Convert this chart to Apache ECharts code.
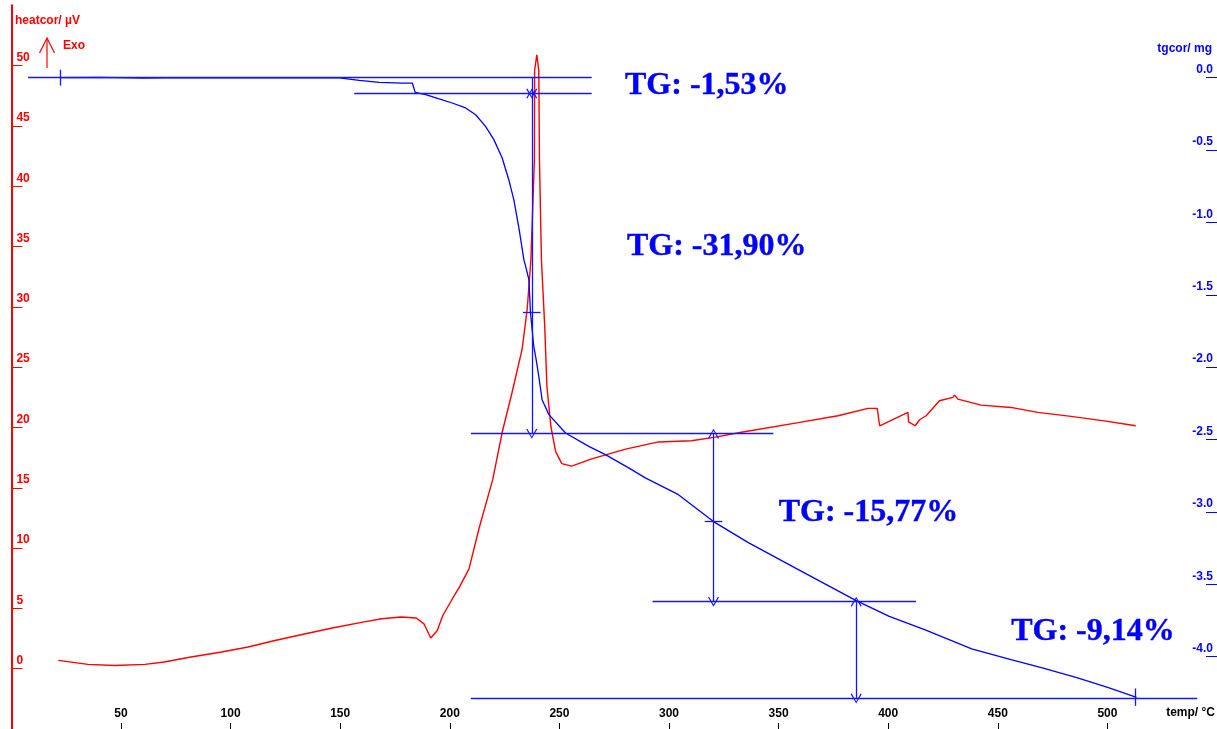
<!DOCTYPE html>
<html><head><meta charset="utf-8">
<script src="https://cdn.jsdelivr.net/npm/echarts@6/dist/echarts.min.js"></script>
<style>html,body{margin:0;padding:0;background:#fff}#c{width:1217px;height:729px}</style>
</head><body><div id="c"></div>
<script>
// DTA curve (heatcor, µV) vs temperature (°C)
const dtaTemp = [21.4, 34.9, 47.1, 60.9, 69.7, 81.9, 95.9, 108.0, 120.2, 134.2, 146.4, 160.3, 169.0, 177.7, 184.7, 188.2, 191.3, 194.3, 196.8, 201.2, 204.5, 208.8, 213.3, 219.6, 223.9, 228.4, 233.0, 235.3, 237.0, 238.6, 238.7, 239.7, 240.6, 240.9, 241.8, 243.3, 244.3, 246.1, 248.3, 251.1, 255.6, 264.7, 280.2, 295.2, 310.2, 321.2, 333.0, 359.0, 377.1, 390.8, 395.0, 396.1, 409.0, 409.3, 412.3, 414.3, 417.3, 423.4, 429.5, 430.3, 431.8, 442.4, 456.0, 468.2, 483.4, 498.5, 512.9];
const dtaHeat = [0.69, 0.36, 0.27, 0.36, 0.55, 0.97, 1.38, 1.80, 2.34, 2.90, 3.37, 3.86, 4.14, 4.28, 4.20, 3.72, 2.54, 3.17, 4.41, 5.80, 6.8, 8.3, 11.6, 15.7, 19.6, 22.9, 26.5, 29.8, 33.9, 42.2, 49.6, 50.9, 49.6, 42.2, 33.9, 28.4, 23.4, 20.1, 18.0, 17.0, 16.8, 17.4, 18.2, 18.8, 18.9, 19.2, 19.6, 20.4, 20.97, 21.58, 21.58, 20.14, 21.25, 20.47, 20.14, 20.64, 20.97, 22.21, 22.49, 22.68, 22.35, 21.85, 21.66, 21.25, 20.92, 20.55, 20.14];

// TG curve (tgcor, mg) vs temperature (°C)
const tgTemp = [22.1, 40, 60, 80, 100, 120, 140, 149.6, 158.7, 167.8, 178.4, 182.9, 184.2, 189.0, 195.1, 201.1, 207.2, 211.8, 216.3, 220.1, 223.9, 226.9, 229.2, 231.5, 233.8, 234.6, 236.1, 236.8, 238.3, 239.4, 240.6, 242.1, 245.2, 252.8, 263.4, 271.0, 281.6, 289.2, 304.3, 320.3, 336.2, 359.0, 385.4, 400.5, 416.6, 438.1, 456.0, 470.3, 486.4, 500.8, 513.3];
const tgMass = [0, 0.002, -0.003, 0, -0.002, 0, -0.001, -0.002, -0.019, -0.032, -0.037, -0.037, -0.102, -0.117, -0.147, -0.175, -0.209, -0.256, -0.336, -0.428, -0.555, -0.705, -0.843, -1.036, -1.257, -1.304, -1.396, -1.623, -1.856, -1.948, -2.064, -2.225, -2.328, -2.455, -2.547, -2.604, -2.696, -2.765, -2.881, -3.067, -3.212, -3.399, -3.613, -3.722, -3.813, -3.947, -4.021, -4.078, -4.147, -4.216, -4.281];

// axis ticks
const xTickValues = [50, 100, 150, 200, 250, 300, 350, 400, 450, 500];
const heatTickValues = [0, 5, 10, 15, 20, 25, 30, 35, 40, 45, 50];
const massTickValues = [0, -0.5, -1, -1.5, -2, -2.5, -3, -3.5, -4];

// TG step evaluation
const stepLevels = [0, -0.11, -2.46, -3.62, -4.29];           // mg levels
const levelLineRanges = [[7.6, 264.7], [156.4, 264.7], [209.6, 347.6], [292.5, 412.7], [209.6, 541]]; // °C
const stepArrowTemps = [237.4, 237.4, 320.3, 385.4];            // °C
const stepLabels = ['TG: -1,53%', 'TG: -31,90%', 'TG: -15,77%', 'TG: -9,14%'];
const stepLabelAnchors = [[279.7, -0.055], [280.6, -1.168], [349.8, -3.005], [455.9, -3.827]];
const crossMarksH = [[237.4, -1.623], [320.3, -3.067]];        // inflection crosses
const crossMarksV = [[22.1, 0], [512.8, -4.29]];               // start / end marks

const RED = '#ff0000', BLUE = '#0000ff', ALINE = '#1414ff';
const chevron = 'path://M0,0 L-5,10 L-4,10.6 L0,2.2 L4,10.6 L5,10 Z';
const lineSty = {color: ALINE, width: 1.3, type: 'solid', opacity: 1};

const markData = [];
levelLineRanges.forEach((r, i) => {
  markData.push([{coord: [r[0], stepLevels[i]], symbol: 'none', lineStyle: lineSty}, {coord: [r[1], stepLevels[i]], symbol: 'none'}]);
});
stepArrowTemps.forEach((t, i) => {
  const startSym = i === 0 ? 'none' : chevron;
  markData.push([{coord: [t, stepLevels[i + 1]], symbol: chevron, lineStyle: lineSty}, {coord: [t, stepLevels[i]], symbol: startSym}]);
});
crossMarksH.forEach(p => {
  markData.push([{coord: [p[0] - 4, p[1]], symbol: 'none', lineStyle: lineSty}, {coord: [p[0] + 4, p[1]], symbol: 'none'}]);
});
crossMarksV.forEach((p, i) => {
  markData.push([{coord: [p[0], p[1] + (i === 0 ? 0.055 : 0.07)], symbol: 'none', lineStyle: lineSty}, {coord: [p[0], p[1] - (i === 0 ? 0.055 : 0.05)], symbol: 'none'}]);
});

const chart = echarts.init(document.getElementById('c'), null, {renderer: 'canvas'});
const baseFont = {fontFamily: '"Liberation Sans", Arial, sans-serif', fontWeight: 'bold', fontSize: 12};

chart.setOption({
  animation: false,
  backgroundColor: '#ffffff',
  grid: {left: 11.4, width: 1208.4, top: 5.3, height: 724.4, containLabel: false},
  xAxis: {
    type: 'value', min: 0, max: 550, interval: 50, position: 'bottom',
    axisLine: {show: false, onZero: false},
    axisTick: {show: true, inside: true, length: 6, customValues: xTickValues, lineStyle: {color: '#000', width: 1}},
    axisLabel: Object.assign({show: true, inside: true, margin: 15, verticalAlign: 'middle', color: '#000', customValues: xTickValues}, baseFont),
    splitLine: {show: false}
  },
  yAxis: [
    {
      type: 'value', min: -5, max: 55, interval: 5, position: 'left',
      axisLine: {show: true, onZero: false, lineStyle: {color: RED, width: 2}},
      axisTick: {show: true, inside: true, length: 11, customValues: heatTickValues, lineStyle: {color: RED, width: 1}},
      axisLabel: Object.assign({show: true, inside: true, margin: 5, verticalAlign: 'bottom', padding: [0, 0, 2, 0], color: RED, customValues: heatTickValues}, baseFont),
      splitLine: {show: false}
    },
    {
      type: 'value', min: -4.5, max: 0.5, interval: 0.5, position: 'right',
      axisLine: {show: false, onZero: false},
      axisTick: {show: true, inside: true, length: 11, customValues: massTickValues, lineStyle: {color: BLUE, width: 1}},
      axisLabel: Object.assign({show: true, inside: true, margin: 4, verticalAlign: 'bottom', padding: [0, 0, 2, 0], color: BLUE, customValues: massTickValues,
        formatter: v => (Math.abs(v) < 1e-9 ? '0.0' : v.toFixed(1))}, baseFont),
      splitLine: {show: false}
    }
  ],
  series: [
    {
      name: 'heatcor', type: 'line', yAxisIndex: 0, showSymbol: false, symbol: 'none',
      data: dtaTemp.map((t, i) => [t, dtaHeat[i]]),
      lineStyle: {color: RED, width: 1.4}, itemStyle: {color: RED}, z: 3
    },
    {
      name: 'tgcor', type: 'line', yAxisIndex: 1, showSymbol: false, symbol: 'none',
      data: tgTemp.map((t, i) => [t, tgMass[i]]),
      lineStyle: {color: BLUE, width: 1.3}, itemStyle: {color: BLUE}, z: 4,
      markLine: {
        silent: true, animation: false, symbol: ['none', 'none'], symbolSize: [11, 10],
        label: {show: false},
        lineStyle: lineSty,
        itemStyle: {color: ALINE},
        emphasis: {disabled: true},
        data: markData
      }
    },
    {
      name: 'steps', type: 'scatter', yAxisIndex: 1, symbol: 'circle', symbolSize: 1,
      itemStyle: {color: BLUE, opacity: 0}, silent: true, z: 5,
      data: stepLabelAnchors.map(p => p),
      label: {
        show: true, position: 'right', distance: 0,
        formatter: p => stepLabels[p.dataIndex],
        color: BLUE, opacity: 1, fontFamily: '"Liberation Serif", "Times New Roman", serif', fontWeight: 'bold', fontSize: 32,
        textBorderColor: BLUE, textBorderWidth: 0.4
      }
    }
  ],
  graphic: [
    {type: 'text', left: 15, top: 15, style: {text: 'heatcor/ µV', fill: RED, font: 'bold 12px "Liberation Sans", Arial'}},
    {type: 'text', left: 63, top: 40, style: {text: 'Exo', fill: RED, font: 'bold 12px "Liberation Sans", Arial'}},
    {type: 'polyline', shape: {points: [[47, 68], [47, 38]]}, style: {stroke: RED, lineWidth: 1.2, fill: null}},
    {type: 'polyline', shape: {points: [[39.5, 53], [47, 38], [54.5, 53]]}, style: {stroke: RED, lineWidth: 1.2, fill: null}},
    {type: 'text', right: 5, top: 43, style: {text: 'tgcor/ mg', fill: BLUE, font: 'bold 12px "Liberation Sans", Arial'}},
    {type: 'text', right: 2, top: 707, style: {text: 'temp/ °C', fill: '#000', font: 'bold 12px "Liberation Sans", Arial'}}
  ]
});
</script>
</body></html>
